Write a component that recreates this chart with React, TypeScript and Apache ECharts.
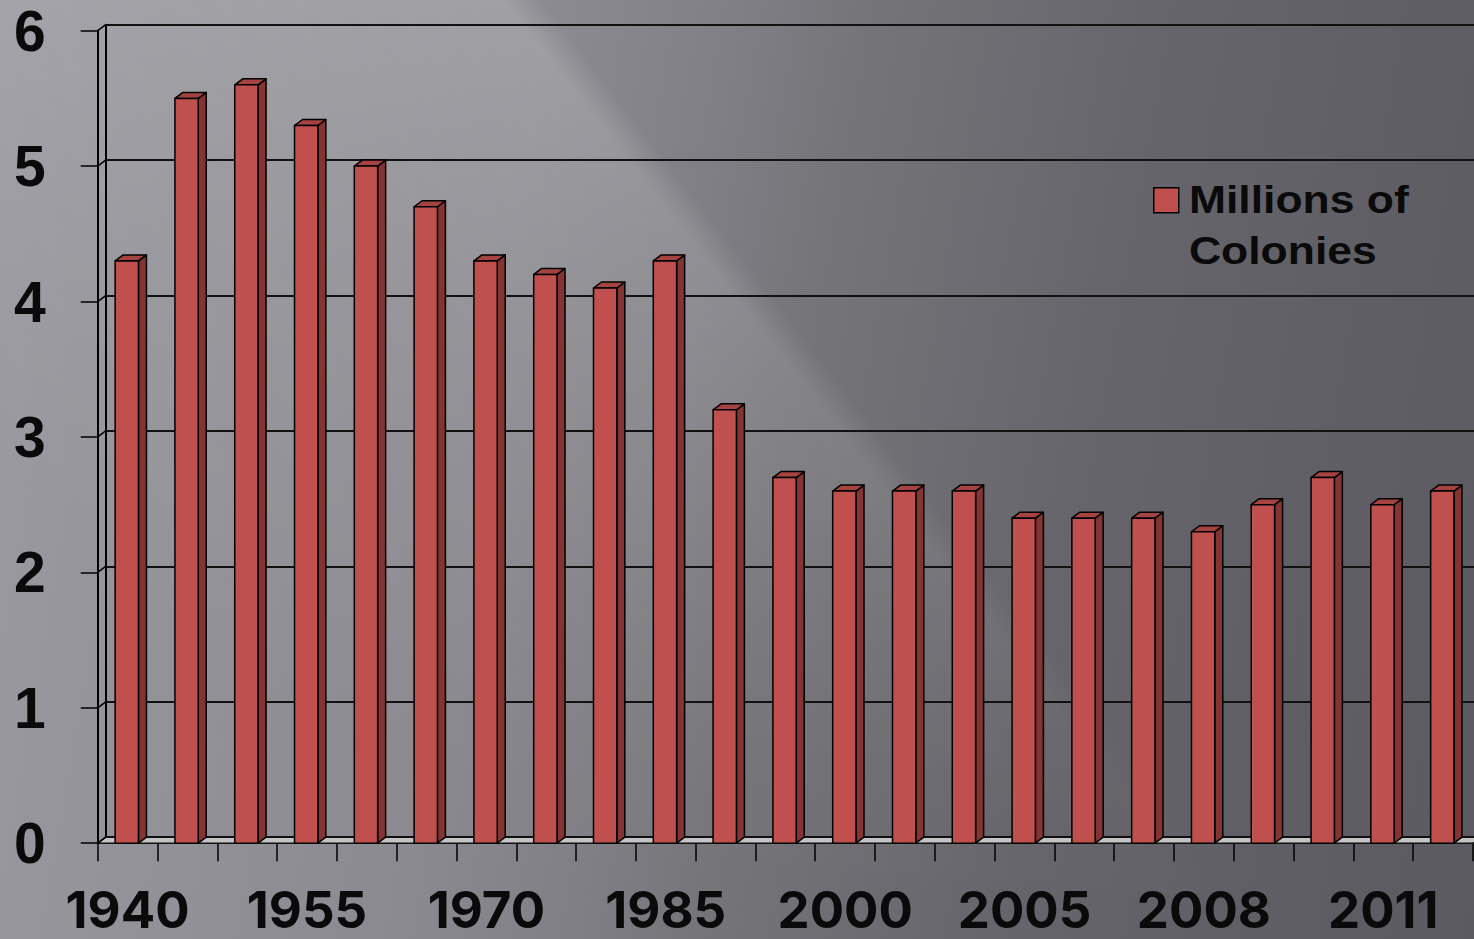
import React, { useEffect, useRef } from "react";
import * as echarts from "echarts";

const CATEGORIES = ["1940","1945","1950","1955","1960","1965","1970","1975","1980","1985","1990","1995","2000","2002","2004","2005","2006","2007","2008","2009","2010","2011","2012"];
const COLONIES = [4.3,5.5,5.6,5.3,5.0,4.7,4.3,4.2,4.1,4.3,3.2,2.7,2.6,2.6,2.6,2.4,2.4,2.4,2.3,2.5,2.7,2.5,2.6];
const Y_TICKS = [0,1,2,3,4,5,6];
const LEGEND_LINES = ["Millions of", "Colonies"];

const W = 1474;
const H = 939;
const GRID_LEFT = 97.7;
const GRID_TOP = 30.7;
const GRID_W = 1375.3;
const GRID_H = 812.5;
const DX = 8;
const DY = -6;

const FRONT = "#c0504d";
const SIDE = "#843432";
const TOPC = "#a54341";
const INK = "#0a0a0a";

export default function App() {
  const ref = useRef<HTMLDivElement>(null);
  useEffect(() => {
    if (!ref.current) return;
    const chart = echarts.init(ref.current, null, { renderer: "svg" });
    const barData = COLONIES.map((v, i) => [i, v]);
    const frameData = Y_TICKS.map((v) => [0, v]);
    chart.setOption({
      animation: false,
      backgroundColor: "transparent",
      grid: [
        { left: GRID_LEFT, top: GRID_TOP, width: GRID_W, height: GRID_H, containLabel: false },
        { left: GRID_LEFT + DX, top: GRID_TOP + DY, width: GRID_W, height: GRID_H, containLabel: false },
      ],
      graphic: [
        {
          type: "rect",
          left: 1153,
          top: 187,
          shape: { width: 25, height: 25 },
          style: { fill: FRONT, stroke: "#000", lineWidth: 1.5 },
          z: 10,
        },
        {
          type: "text",
          x: 1189,
          y: 175,
          scaleX: 1.17,
          z: 10,
          style: {
            text: LEGEND_LINES.join("\n"),
            x: 0,
            y: 0,
            font: "bold 38px 'Liberation Sans', Arial, sans-serif",
            lineHeight: 51,
            fill: INK,
            align: "left",
            verticalAlign: "top",
          },
        },
      ],
      xAxis: [
        {
          type: "category",
          gridIndex: 0,
          data: CATEGORIES,
          boundaryGap: true,
          axisLine: { show: true, lineStyle: { color: "#000", width: 2 } },
          axisTick: { show: true, interval: 0, length: 18, lineStyle: { color: "#000", width: 1.5 } },
          axisLabel: {
            interval: 2,
            margin: 41,
            fontFamily: "Inter, 'Liberation Sans', Arial, sans-serif",
            fontWeight: "bold",
            fontSize: 51,
            color: INK,
          },
          splitLine: { show: false },
        },
        {
          type: "category",
          gridIndex: 1,
          data: CATEGORIES,
          show: false,
        },
      ],
      yAxis: [
        {
          type: "value",
          gridIndex: 0,
          min: 0,
          max: 6,
          interval: 1,
          axisLine: { show: true, lineStyle: { color: "#000", width: 2 } },
          axisTick: { show: true, length: 17, lineStyle: { color: "#000", width: 1.5 } },
          axisLabel: {
            margin: 52,
            fontFamily: "'Liberation Sans', Arial, sans-serif",
            fontWeight: "bold",
            fontSize: 57,
            lineHeight: 56,
            color: INK,
          },
          splitLine: { show: false },
        },
        {
          type: "value",
          gridIndex: 1,
          min: 0,
          max: 6,
          interval: 1,
          axisLine: { show: true, lineStyle: { color: "#000", width: 2 } },
          axisTick: { show: false },
          axisLabel: { show: false },
          splitLine: { show: true, lineStyle: { color: "#111", width: 2 } },
        },
      ],
      series: [
        {
          type: "custom",
          name: "frame",
          xAxisIndex: 0,
          yAxisIndex: 0,
          data: frameData,
          encode: { x: 0, y: 1 },
          clip: false,
          silent: true,
          z: 1,
          renderItem: (params: any, api: any) => {
            const v = api.value(1);
            const p = api.coord([0, v]);
            const cs = params.coordSys;
            const gx = cs.x;
            const y = p[1];
            const children: any[] = [];
            if (v === 0) {
              children.push({
                type: "polygon",
                shape: { points: [[gx, y], [gx + DX, y + DY], [gx + cs.width + DX, y + DY], [gx + cs.width, y]] },
                style: { fill: "#c3c3c5", stroke: "#111", lineWidth: 1.5 },
              });
            }
            children.push({
              type: "line",
              shape: { x1: gx, y1: y, x2: gx + DX, y2: y + DY },
              style: { stroke: "#000", lineWidth: 1.5 },
            });
            return { type: "group", children };
          },
        },
        {
          type: "custom",
          name: "Millions of Colonies",
          xAxisIndex: 0,
          yAxisIndex: 0,
          data: barData,
          encode: { x: 0, y: 1 },
          clip: false,
          z: 3,
          itemStyle: { color: FRONT, borderColor: "#000", borderWidth: 1.5 },
          renderItem: (params: any, api: any) => {
            const idx = api.value(0);
            const v = api.value(1);
            const b = api.coord([idx, 0]);
            const t = api.coord([idx, v]);
            const band = api.size([1, 0])[0];
            const w = band * 0.39;
            const x0 = b[0] - w / 2 - 0.8;
            const x1 = x0 + w;
            const yb = b[1];
            const yt = t[1];
            const st = { stroke: "#000", lineWidth: 1.5, lineJoin: "round" };
            return {
              type: "group",
              children: [
                {
                  type: "polygon",
                  shape: { points: [[x1, yt], [x1 + DX, yt + DY], [x1 + DX, yb + DY], [x1, yb]] },
                  style: { fill: SIDE, ...st },
                },
                {
                  type: "polygon",
                  shape: { points: [[x0, yt], [x0 + DX, yt + DY], [x1 + DX, yt + DY], [x1, yt]] },
                  style: { fill: TOPC, ...st },
                },
                {
                  type: "rect",
                  shape: { x: x0, y: yt, width: w, height: yb - yt },
                  style: { fill: FRONT, ...st },
                },
              ],
            };
          },
        },
      ],
    });
    return () => chart.dispose();
  }, []);

  const base =
    "linear-gradient(100deg, #9d9ca3 0%, #97969c 10%, #8b8a90 34%, #807f85 45%, #757479 53%, #66656b 71%, #605f65 85%, #5b5a60 100%)";
  const streak =
    "linear-gradient(52deg, rgba(255,255,255,0) 15%, rgba(255,255,255,0.13) 45%, rgba(255,255,255,0.18) 56%, rgba(255,255,255,0) 57.8%)";
  const fade = "linear-gradient(to bottom, rgba(0,0,0,1) 0%, rgba(0,0,0,0.55) 50%, rgba(0,0,0,0.1) 85%, rgba(0,0,0,0) 100%)";

  return (
    <div
      style={{
        position: "fixed",
        left: 0,
        top: 0,
        width: W,
        height: H,
        background: base,
        overflow: "hidden",
      }}
    >
      <div
        style={{
          position: "absolute",
          left: 0,
          top: 0,
          width: W,
          height: H,
          background: streak,
          WebkitMaskImage: fade,
          maskImage: fade,
        } as any}
      />
      <div ref={ref} style={{ position: "absolute", left: 0, top: 0, width: W, height: H }} />
    </div>
  );
}
